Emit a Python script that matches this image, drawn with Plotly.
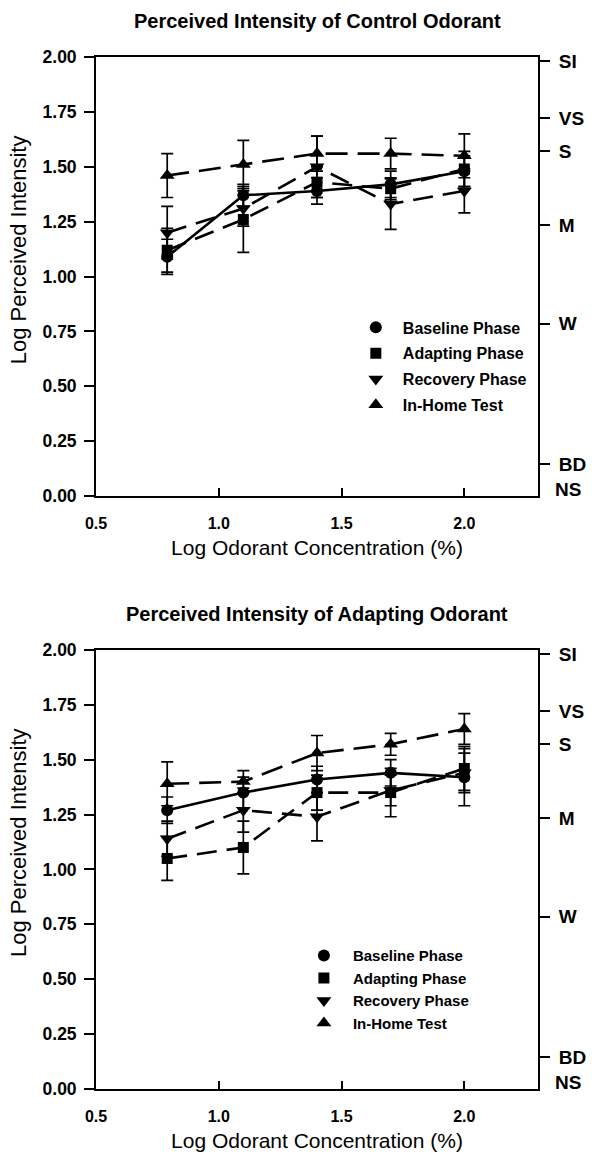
import plotly.graph_objects as go

# ---------------- data ----------------
conc = [0.79, 1.10, 1.40, 1.70, 2.00]
x_ticks = [0.5, 1.0, 1.5, 2.0]
x_tick_text = ["0.5", "1.0", "1.5", "2.0"]
y_ticks = [0.0, 0.25, 0.5, 0.75, 1.0, 1.25, 1.5, 1.75, 2.0]
y_tick_text = ["0.00", "0.25", "0.50", "0.75", "1.00", "1.25", "1.50", "1.75", "2.00"]
verbal_vals = [1.98, 1.72, 1.57, 1.235, 0.785, 0.146]
verbal_labels = ["SI", "VS", "S", "M", "W", "BD"]

series_names = ["Baseline Phase", "Adapting Phase", "Recovery Phase", "In-Home Test"]

# Control odorant
ctrl_baseline = [1.09, 1.37, 1.39, 1.42, 1.48]
ctrl_baseline_err = [0.08, 0.05, 0.06, 0.06, 0.07]
ctrl_adapting = [1.12, 1.26, 1.43, 1.40, 1.49]
ctrl_adapting_err = [0.10, 0.15, 0.07, 0.05, 0.08]
ctrl_recovery = [1.20, 1.31, 1.50, 1.33, 1.39]
ctrl_recovery_err = [0.12, 0.08, 0.14, 0.115, 0.10]
ctrl_inhome = [1.46, 1.51, 1.56, 1.56, 1.55]
ctrl_inhome_err = [0.10, 0.11, 0.08, 0.07, 0.10]

# Adapting odorant
adapt_baseline = [1.27, 1.35, 1.41, 1.44, 1.42]
adapt_baseline_err = [0.06, 0.07, 0.06, 0.06, 0.13]
adapt_adapting = [1.05, 1.10, 1.35, 1.35, 1.46]
adapt_adapting_err = [0.10, 0.12, 0.08, 0.11, 0.10]
adapt_recovery = [1.14, 1.27, 1.24, 1.36, 1.44]
adapt_recovery_err = [0.08, 0.10, 0.11, 0.07, 0.09]
adapt_inhome = [1.39, 1.40, 1.53, 1.57, 1.64]
adapt_inhome_err = [0.10, 0.05, 0.08, 0.05, 0.07]

# ---------------- styles ----------------
FONT = "Liberation Sans"
symbols = ["circle", "square", "triangle-down", "triangle-up"]
sizes = [12, 11, 13, 13]
dashes = ["solid", "20px,10px", "20px,10px", "22px,10px"]

fig = go.Figure()

panels = [
    ("x", "y", "legend", [
        (ctrl_baseline, ctrl_baseline_err),
        (ctrl_adapting, ctrl_adapting_err),
        (ctrl_recovery, ctrl_recovery_err),
        (ctrl_inhome, ctrl_inhome_err)]),
    ("x2", "y2", "legend2", [
        (adapt_baseline, adapt_baseline_err),
        (adapt_adapting, adapt_adapting_err),
        (adapt_recovery, adapt_recovery_err),
        (adapt_inhome, adapt_inhome_err)]),
]

for xa, ya, lg, data in panels:
    for i, (vals, errs) in enumerate(data):
        fig.add_trace(go.Scatter(
            x=conc, y=vals, xaxis=xa, yaxis=ya, mode="lines+markers",
            line=dict(color="black", width=2.6, dash=dashes[i]),
            marker=dict(symbol=symbols[i], size=sizes[i], color="black"),
            error_y=dict(type="data", array=errs, color="black", thickness=1.7, width=6),
            showlegend=False, hoverinfo="skip"))
    for i, name in enumerate(series_names):
        fig.add_trace(go.Scatter(
            x=[None], y=[None], xaxis=xa, yaxis=ya, mode="markers", name=name,
            marker=dict(symbol=symbols[i], size=sizes[i], color="black"),
            legend=lg, legendgroup=lg + str(i), showlegend=True))

# invisible traces so the right-hand verbal axes are drawn
fig.add_trace(go.Scatter(x=[None], y=[None], xaxis="x", yaxis="y3", showlegend=False, hoverinfo="skip"))
fig.add_trace(go.Scatter(x=[None], y=[None], xaxis="x2", yaxis="y4", showlegend=False, hoverinfo="skip"))

title_font = dict(family=FONT, size=21, color="black")

def xaxis_cfg(anchor):
    return dict(anchor=anchor, domain=[0, 1], range=[0.5, 2.3], tickvals=x_ticks, ticktext=x_tick_text,
                showline=True, linecolor="black", linewidth=1.8, mirror=True,
                ticks="inside", ticklen=8, tickwidth=1.6, tickcolor="black",
                showgrid=False, zeroline=False, ticklabelstandoff=12,
                tickfont=dict(family=FONT, size=16, color="black", weight="bold"),
                title=dict(text="Log Odorant Concentration (%)", font=title_font, standoff=9))

def yaxis_cfg(anchor, domain):
    return dict(anchor=anchor, domain=domain, range=[0, 2], tickvals=y_ticks, ticktext=y_tick_text,
                showline=True, linecolor="black", linewidth=1.8, mirror=True,
                ticks="outside", ticklen=10, tickwidth=1.6, tickcolor="black",
                showgrid=False, zeroline=False, ticklabelstandoff=4,
                tickfont=dict(family=FONT, size=17.5, color="black", weight="bold"))

def verbal_cfg(overlay, anchor, domain):
    return dict(overlaying=overlay, anchor=anchor, side="right", domain=domain, range=[0, 2],
                tickvals=verbal_vals, ticktext=verbal_labels, showline=False,
                ticks="outside", ticklen=11, tickwidth=1.6, tickcolor="black",
                showgrid=False, zeroline=False, ticklabelstandoff=5,
                tickfont=dict(family=FONT, size=19, color="black", weight="bold"))

top_dom = [0.5745, 1.0]
bot_dom = [0.0, 0.4255]

bold20 = dict(family=FONT, size=20, color="black", weight="bold")
bold19 = dict(family=FONT, size=19, color="black", weight="bold")
ytitle_font = dict(family=FONT, size=22, color="black")

fig.update_layout(
    width=598, height=1161,
    margin=dict(l=96, r=49, t=57, b=70),
    paper_bgcolor="white", plot_bgcolor="white",
    xaxis=xaxis_cfg("y"), yaxis=yaxis_cfg("x", top_dom),
    xaxis2=xaxis_cfg("y2"), yaxis2=yaxis_cfg("x2", bot_dom),
    yaxis3=verbal_cfg("y", "x", top_dom),
    yaxis4=verbal_cfg("y2", "x2", bot_dom),
    legend=dict(x=0.572, y=0.7544, xanchor="left", yanchor="top", bgcolor="rgba(0,0,0,0)",
                font=dict(family=FONT, size=16, color="black", weight="bold"),
                tracegroupgap=2, itemwidth=44),
    legend2=dict(x=0.450, y=0.1451, xanchor="left", yanchor="top", bgcolor="rgba(0,0,0,0)",
                 font=dict(family=FONT, size=15, color="black", weight="bold"),
                 tracegroupgap=0, itemwidth=48),
    annotations=[
        dict(text="Perceived Intensity of Control Odorant", xref="x domain", yref="paper",
             x=0.5, y=1.035, yanchor="middle", showarrow=False, font=bold20),
        dict(text="Perceived Intensity of Adapting Odorant", xref="x2 domain", yref="paper",
             x=0.5, y=0.4603, yanchor="middle", showarrow=False, font=bold20),
        dict(text="Log Perceived Intensity", xref="x domain", yref="y domain", x=0, y=0.56,
             xanchor="center", yanchor="middle", xshift=-78, textangle=-90,
             showarrow=False, font=ytitle_font),
        dict(text="Log Perceived Intensity", xref="x2 domain", yref="y2 domain", x=0, y=0.56,
             xanchor="center", yanchor="middle", xshift=-78, textangle=-90,
             showarrow=False, font=ytitle_font),
        dict(text="NS", xref="x domain", yref="y", x=1, y=0.03, xanchor="left", xshift=15,
             showarrow=False, font=bold19),
        dict(text="NS", xref="x2 domain", yref="y2", x=1, y=0.03, xanchor="left", xshift=15,
             showarrow=False, font=bold19),
    ],
)

fig.write_html("out.html", config={"displayModeBar": False},
               post_script="document.body.style.margin='0px';document.body.style.overflow='hidden';")
